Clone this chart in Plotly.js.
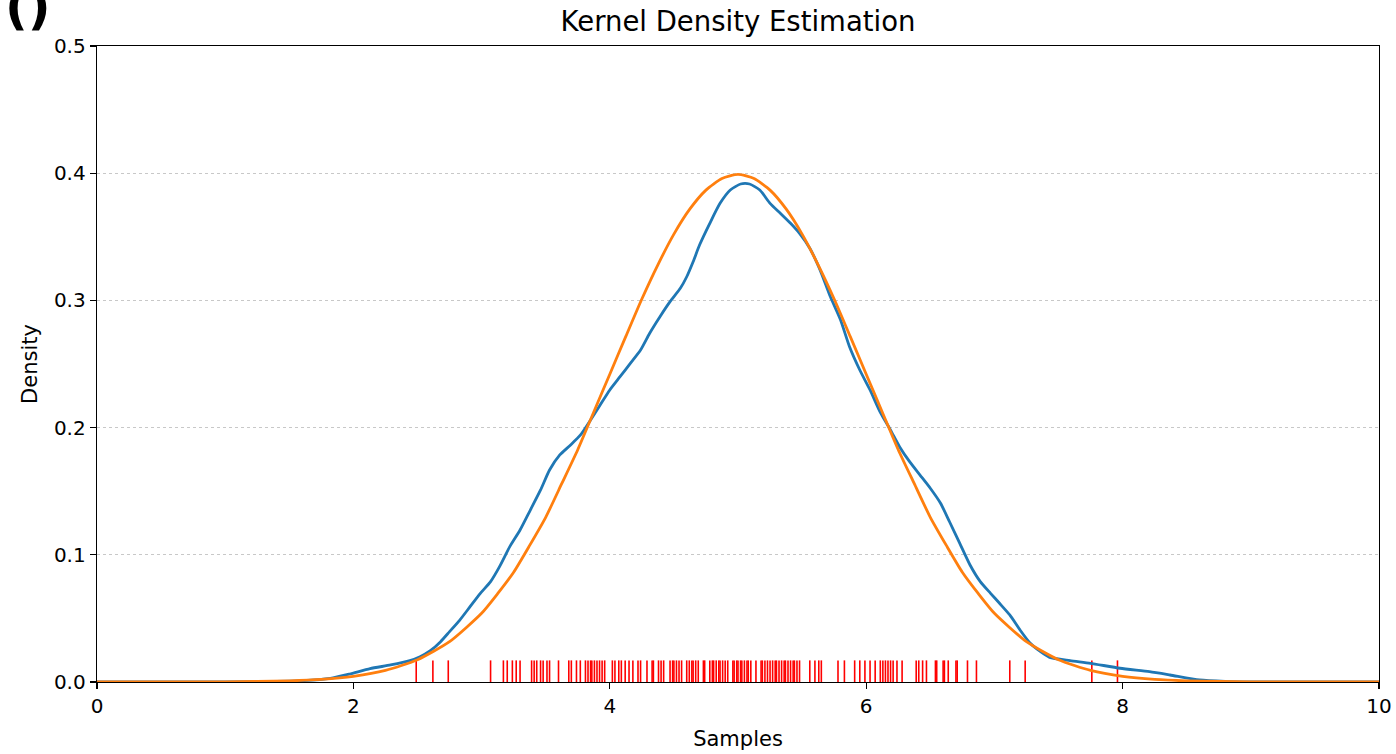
<!DOCTYPE html>
<html>
<head>
<meta charset="utf-8">
<script src="https://cdn.plot.ly/plotly-3.0.1.min.js"></script>
<style>html,body{margin:0;padding:0;background:#fff;}#chart{width:1396px;height:754px;}</style>
</head>
<body>
<div id="chart"></div>
<script>
// Blue: kernel density estimate
const kdeX = [0, 0.5, 1.0, 1.4, 1.6, 1.82, 1.97, 2.13, 2.29, 2.44, 2.52, 2.60, 2.68, 2.75, 2.83, 2.91, 2.99, 3.07, 3.14, 3.22, 3.30, 3.38, 3.46, 3.53, 3.61, 3.69, 3.77, 3.85, 3.92, 4.00, 4.08, 4.16, 4.24, 4.31, 4.39, 4.47, 4.55, 4.60, 4.65, 4.70, 4.78, 4.86, 4.94, 5.02, 5.09, 5.17, 5.25, 5.33, 5.41, 5.48, 5.56, 5.64, 5.72, 5.80, 5.87, 5.95, 6.03, 6.11, 6.19, 6.26, 6.34, 6.42, 6.50, 6.58, 6.65, 6.73, 6.81, 6.89, 6.97, 7.04, 7.12, 7.20, 7.28, 7.36, 7.43, 7.59, 7.75, 7.98, 8.21, 8.37, 8.60, 8.80, 9.0, 9.5, 10];
const kdeY = [0, 0, 0.0001, 0.0004, 0.0010, 0.0029, 0.0063, 0.0105, 0.0134, 0.0168, 0.0199, 0.0246, 0.0317, 0.0396, 0.0487, 0.0592, 0.0697, 0.0789, 0.0907, 0.1064, 0.1195, 0.1352, 0.151, 0.1667, 0.1785, 0.1860, 0.1940, 0.2060, 0.2170, 0.2296, 0.2400, 0.2505, 0.2610, 0.2740, 0.2870, 0.2990, 0.3095, 0.3186, 0.3304, 0.3435, 0.3606, 0.3763, 0.3868, 0.3915, 0.3915, 0.3868, 0.3763, 0.3685, 0.3606, 0.3527, 0.3410, 0.3240, 0.3030, 0.2846, 0.2636, 0.2453, 0.2296, 0.2120, 0.1980, 0.1850, 0.1730, 0.1627, 0.1523, 0.1405, 0.1260, 0.1090, 0.0920, 0.0789, 0.0697, 0.0619, 0.0527, 0.0409, 0.0304, 0.0238, 0.0194, 0.0168, 0.0147, 0.0108, 0.0081, 0.0055, 0.0016, 0.0005, 0.0001, 0, 0];

// Orange: reference normal density
const refX = [0, 0.5, 1.0, 1.25, 1.5, 1.75, 2.0, 2.25, 2.5, 2.75, 3.0, 3.125, 3.25, 3.375, 3.5, 3.625, 3.75, 3.875, 4.0, 4.125, 4.25, 4.375, 4.5, 4.625, 4.75, 4.875, 5.0, 5.125, 5.25, 5.375, 5.5, 5.625, 5.75, 5.875, 6.0, 6.125, 6.25, 6.375, 6.5, 6.625, 6.75, 6.875, 7.0, 7.25, 7.5, 7.75, 8.0, 8.25, 8.5, 8.75, 9.0, 9.5, 10];
const refY = [0, 0, 0.0001, 0.0004, 0.0009, 0.0020, 0.0044, 0.0091, 0.0175, 0.0317, 0.0540, 0.0694, 0.0863, 0.1074, 0.1295, 0.1559, 0.1826, 0.2123, 0.2420, 0.2717, 0.3011, 0.3280, 0.3521, 0.3719, 0.3867, 0.3958, 0.3990, 0.3958, 0.3867, 0.3719, 0.3521, 0.3280, 0.3011, 0.2717, 0.2420, 0.2123, 0.1826, 0.1559, 0.1295, 0.1074, 0.0863, 0.0694, 0.0540, 0.0317, 0.0175, 0.0091, 0.0044, 0.0020, 0.0009, 0.0004, 0.0001, 0, 0];

// Red rug: individual samples
const samples = [2.49, 2.62, 2.74, 3.07, 3.17, 3.20, 3.24, 3.27, 3.30,
  3.39, 3.41, 3.43, 3.46, 3.48, 3.51, 3.53, 3.60, 3.68, 3.70, 3.74, 3.77,
  3.81, 3.83, 3.85, 3.86, 3.88, 3.90, 3.92, 3.94, 3.96,
  4.02, 4.04, 4.07, 4.09, 4.12, 4.15, 4.18, 4.22,
  4.24, 4.29, 4.33, 4.34, 4.38, 4.40, 4.42, 4.47, 4.49, 4.50, 4.52, 4.54, 4.56,
  4.60, 4.62, 4.64, 4.65, 4.67, 4.69, 4.73, 4.74, 4.78, 4.80, 4.81, 4.83, 4.85,
  4.86, 4.88, 4.90, 4.92, 4.96, 4.97, 4.99, 5.00, 5.02, 5.03, 5.05, 5.07, 5.08,
  5.10, 5.14, 5.18, 5.19, 5.21, 5.23, 5.25, 5.27, 5.29, 5.30, 5.32, 5.34, 5.36,
  5.37, 5.39, 5.41, 5.43, 5.44, 5.46, 5.48, 5.56,
  5.60, 5.63, 5.65, 5.78, 5.83, 5.91, 5.95, 5.99, 6.03, 6.07, 6.11,
  6.13, 6.15, 6.17, 6.19, 6.21, 6.24, 6.28, 6.39, 6.41, 6.44, 6.47, 6.54, 6.55,
  6.60, 6.61, 6.64, 6.70, 6.71, 6.79, 6.86, 7.12, 7.24, 7.76, 7.96];
const rugHeight = 0.017;

const xTicks = [0, 2, 4, 6, 8, 10];
const yTicks = [0, 0.1, 0.2, 0.3, 0.4, 0.5];

const rugX = [], rugY = [];
samples.forEach(v => { rugX.push(v, v, null); rugY.push(0, rugHeight, null); });

const traces = [
  {x: rugX, y: rugY, mode: 'lines', line: {color: '#ff0000', width: 1.6}, hoverinfo: 'skip', showlegend: false},
  {x: kdeX, y: kdeY, mode: 'lines', line: {color: '#1f77b4', width: 2.8, shape: 'spline', smoothing: 0.6}, showlegend: false},
  {x: refX, y: refY, mode: 'lines', line: {color: '#ff7f0e', width: 2.8, shape: 'spline', smoothing: 0.6}, showlegend: false}
];

const font = {family: 'DejaVu Sans, sans-serif', color: '#000'};
const layout = {
  width: 1396, height: 754,
  margin: {l: 97, r: 17, t: 46, b: 72, pad: 0},
  paper_bgcolor: '#fff', plot_bgcolor: '#fff',
  font: Object.assign({size: 20}, font),
  title: {text: 'Kernel Density Estimation', font: Object.assign({size: 27.5}, font), x: 0.5, xref: 'paper', y: 1 - 21/754, yref: 'container', yanchor: 'middle'},
  xaxis: {
    range: [0, 10], tickvals: xTicks, ticktext: xTicks.map(String),
    showgrid: false, zeroline: false, showline: true, mirror: true, linecolor: '#000', linewidth: 1.3,
    ticks: 'outside', ticklen: 6, tickwidth: 1.3, tickcolor: '#000',
    tickfont: Object.assign({size: 20}, font),
    title: {text: 'Samples', font: Object.assign({size: 21}, font), standoff: 14}
  },
  yaxis: {
    range: [0, 0.5], tickvals: yTicks, ticktext: yTicks.map(v => v.toFixed(1)),
    showgrid: true, gridcolor: '#c8c8c8', griddash: 'dot', gridwidth: 1,
    zeroline: false, showline: true, mirror: true, linecolor: '#000', linewidth: 1.3,
    ticks: 'outside', ticklen: 6, tickwidth: 1.3, tickcolor: '#000',
    tickfont: Object.assign({size: 20}, font),
    title: {text: 'Density', font: Object.assign({size: 21}, font), standoff: 10}
  },
  annotations: [{
    text: '<b>()</b>', xref: 'paper', yref: 'paper', x: -94/1282, y: 1 + 8/636,
    xanchor: 'left', yanchor: 'bottom', showarrow: false,
    font: {family: 'DejaVu Sans, sans-serif', size: 50, color: '#000'}
  }]
};

Plotly.newPlot('chart', traces, layout, {displayModeBar: false, staticPlot: true});
</script>
</body>
</html>
